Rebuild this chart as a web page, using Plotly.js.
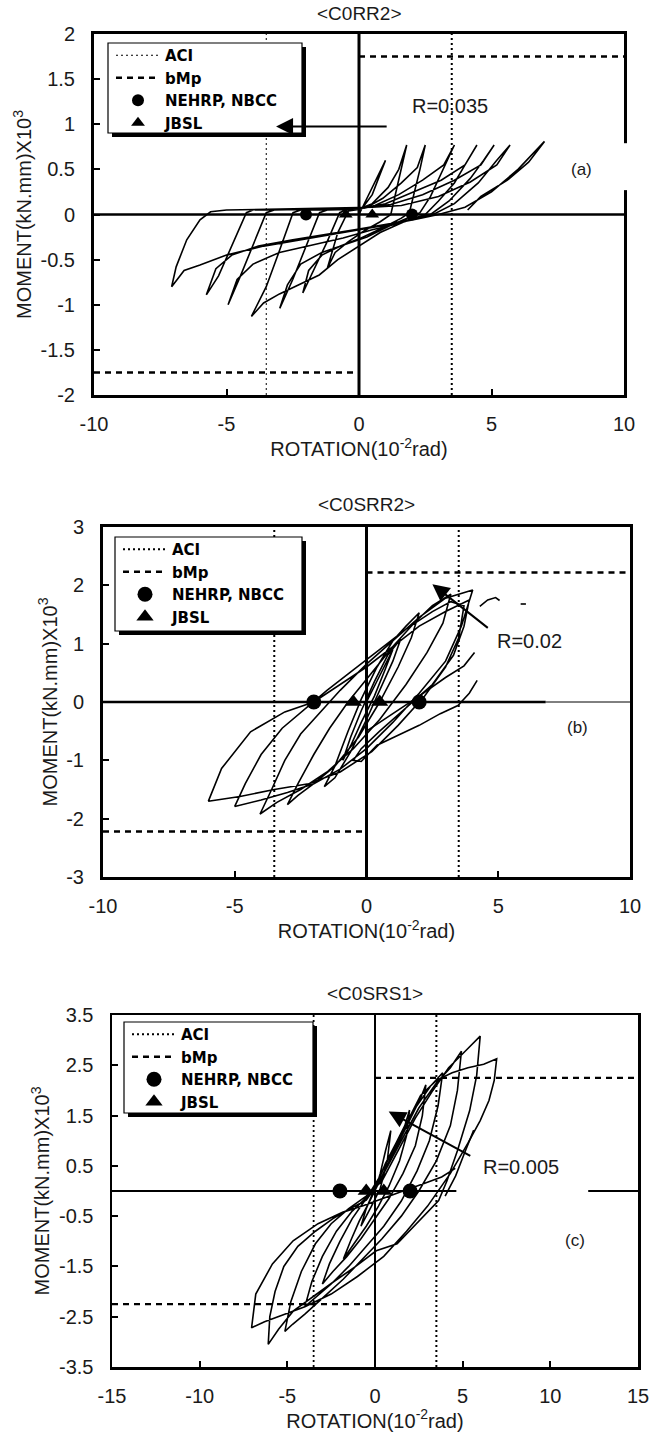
<!DOCTYPE html>
<html>
<head>
<meta charset="utf-8">
<script src="https://cdn.plot.ly/plotly-3.0.1.min.js"></script>
<style>
html,body{margin:0;padding:0;background:#fff;}
#chart{width:655px;height:1437px;}
</style>
</head>
<body>
<div id="chart"></div>
<script>
// ---------------- DATA ----------------
const specimenNames = ['<C0RR2>', '<C0SRR2>', '<C0SRS1>'];
const panelLabels = ['(a)', '(b)', '(c)'];
const driftLabels = ['R=0.035', 'R=0.02', 'R=0.005'];
const legendNames = ['ACI', 'bMp', 'NEHRP, NBCC', 'JBSL'];

const rotationTicksAB = [-10, -5, 0, 5, 10];
const rotationTickTextAB = ['-10', '-5', '0', '5', '10'];
const rotationTicksC = [-15, -10, -5, 0, 5, 10, 15];
const rotationTickTextC = ['-15', '-10', '-5', '0', '5', '10', '15'];
const momentTicksA = [-2, -1.5, -1, -0.5, 0, 0.5, 1, 1.5, 2];
const momentTickTextA = ['-2', '-1.5', '-1', '-0.5', '0', '0.5', '1', '1.5', '2'];
const momentTicksB = [-3, -2, -1, 0, 1, 2, 3];
const momentTickTextB = ['-3', '-2', '-1', '0', '1', '2', '3'];
const momentTicksC = [-3.5, -2.5, -1.5, -0.5, 0.5, 1.5, 2.5, 3.5];
const momentTickTextC = ['-3.5', '-2.5', '-1.5', '-0.5', '0.5', '1.5', '2.5', '3.5'];

const aciRotation = [-3.5, 3.5];
const bMpMoment = [1.75, 2.22, 2.25];
const nehrpRotation = [-2, 2];
const jbslRotation = [-0.5, 0.5];
const codeMoment = [0, 0];

// drift-ratio arrows: [tail, tip] per panel
const driftArrowRotation = [[1.1, -3.13], [4.66, 2.5], [5.52, 0.78]];
const driftArrowMoment = [[0.976, 0.976], [1.25, 2.02], [0.68, 1.58]];

// hysteresis loops: [rotation (10^-2 rad), moment (kN.mm x10^3)], null = pen up
const C0RR2_loop = [
[0,0],[0.3,0.18],[0.7,0.42],[1.0,0.6],
[0.8,0.45],[0.5,0.22],[0.1,0.06],[-0.4,0.04],
[-0.8,-0.2],[-1.2,-0.6],
[-0.9,-0.42],[-0.4,-0.3],[0.2,-0.18],[0.8,-0.08],[1.2,0],
[1.4,0.25],[1.6,0.5],[1.8,0.77],
[1.5,0.5],[1.1,0.3],[0.5,0.12],[0,0.06],[-0.5,0.05],
[-0.73,0.02],[-1.2,-0.3],[-1.7,-0.62],[-2.12,-0.87],
[-1.9,-0.62],[-1.4,-0.45],[-0.7,-0.35],[0,-0.27],[0.8,-0.16],[1.6,-0.04],[1.9,0.02],
[2.1,0.25],[2.3,0.5],[2.5,0.77],
[2.2,0.52],[1.6,0.35],[0.9,0.18],[0.3,0.08],[-0.5,0.06],[-1.2,0.05],
[-1.49,0.02],[-2.0,-0.35],[-2.5,-0.72],[-2.99,-1.04],
[-2.7,-0.78],[-2.2,-0.55],[-1.4,-0.42],[-0.5,-0.33],[0.3,-0.25],[1.2,-0.12],[2.0,-0.02],[2.3,0.02],
[2.7,0.2],[3.1,0.45],[3.6,0.77],
[3.2,0.55],[2.4,0.38],[1.5,0.22],[0.6,0.1],[0,0.06],[-1.2,0.05],[-2.2,0.05],
[-2.49,0.02],[-3.0,-0.4],[-3.5,-0.8],[-4.06,-1.13],
[-3.6,-0.98],[-3.0,-0.88],[-2.3,-0.78],[-1.5,-0.67],[-0.8,-0.5],[0,-0.35],[0.8,-0.2],[1.7,-0.08],[2.5,0],
[3.0,0.15],[3.6,0.35],[4.0,0.55],[4.45,0.77],
[4.0,0.55],[3.1,0.38],[2.0,0.24],[1.0,0.12],[0.2,0.07],[-1.0,0.06],[-2.5,0.05],[-3.2,0.05],
[-3.5,0.02],[-4.0,-0.35],[-4.5,-0.7],[-4.94,-1.0],
[-4.6,-0.72],[-4.0,-0.55],[-3.0,-0.42],[-1.8,-0.34],[-0.6,-0.26],[0.5,-0.17],[1.5,-0.1],[2.4,-0.02],[2.7,0.0],
[3.4,0.15],[4.2,0.4],[4.7,0.6],[5.1,0.77],
[4.6,0.55],[3.6,0.38],[2.4,0.22],[1.2,0.11],[0,0.07],[-1.5,0.06],[-3.0,0.05],[-4.0,0.05],
[-4.25,0.02],[-4.8,-0.35],[-5.3,-0.68],[-5.76,-0.89],
[-5.4,-0.6],[-4.8,-0.45],[-3.8,-0.35],[-2.5,-0.28],[-1.2,-0.22],[0,-0.16],[1.2,-0.1],[2.3,-0.03],[2.8,0.0],
[3.6,0.12],[4.5,0.35],[5.2,0.6],[5.7,0.77],
[5.2,0.55],[4.2,0.36],[3.0,0.2],[1.6,0.1],[0.5,0.08],[-1.5,0.07],[-3.5,0.06],[-5.0,0.05],[-5.6,0.03],
[-6.0,-0.06],[-6.5,-0.28],[-6.9,-0.58],[-7.07,-0.8],
[-6.6,-0.62],[-6.0,-0.56],[-5.0,-0.45],[-3.6,-0.35],[-2.0,-0.27],[-0.5,-0.2],[1.0,-0.12],[2.2,-0.05],[3.0,0.0],
[4.0,0.08],[5.0,0.25],[6.0,0.5],[7.0,0.81],
[6.4,0.58],[5.6,0.38],[4.6,0.2],[4.1,0.05]
];

const C0SRR2_loop = [
[0,0],[0.4,0.35],[0.8,0.72],[1.0,0.9],[0.7,0.55],[0.3,0.1],[-0.2,-0.35],[-0.6,-0.75],[-0.9,-1.0],
[-0.6,-0.6],[-0.2,-0.15],[0.3,0.35],[0.8,0.8],[1.3,1.08],[1.0,0.7],[0.5,0.2],[0,-0.3],[-0.6,-0.85],[-1.2,-1.3],[-1.6,-1.45],
[-1.2,-1.1],[-0.7,-0.5],[-0.2,0.05],[0.4,0.6],[1.0,1.05],[1.5,1.3],[2.0,1.53],[1.7,1.1],[1.2,0.6],[0.5,0.0],[-0.3,-0.6],[-1.2,-1.1],[-2.0,-1.4],[-2.6,-1.6],[-3.0,-1.76],
[-2.6,-1.4],[-2.0,-0.9],[-1.4,-0.45],[-0.7,0.0],[0.2,0.5],[1.0,0.95],[1.8,1.35],[2.5,1.65],[3.2,1.85],[2.9,1.35],[2.3,0.85],[1.5,0.3],[0.5,-0.3],[-0.5,-0.8],[-1.5,-1.2],[-2.5,-1.5],[-3.4,-1.72],[-4.04,-1.92],
[-3.6,-1.5],[-3.1,-1.0],[-2.5,-0.55],[-1.8,-0.2],[-1.0,0.2],[0,0.65],[1.0,1.05],[2.0,1.45],[3.0,1.78],[4.03,1.92],[3.6,1.3],[3.0,0.7],[2.0,0.15],[1.0,-0.35],[0,-0.8],[-1.0,-1.15],[-2.0,-1.4],[-3.0,-1.55],[-4.0,-1.68],[-5.0,-1.79],
[-4.6,-1.4],[-4.0,-0.9],[-3.2,-0.45],[-2.4,-0.15],[-1.5,0.2],[-0.5,0.55],[0.5,0.9],[1.5,1.25],[2.5,1.55],[3.2,1.72],[3.7,1.65],[3.5,1.1],[3.0,0.6],[2.2,0.1],[1.2,-0.4],[0.2,-0.85],[-1.0,-1.2],[-2.2,-1.4],[-3.5,-1.5],[-4.8,-1.62],[-6.0,-1.7],
[-5.5,-1.14],[-4.4,-0.51],[-3.1,-0.17],[-2.0,0.0],[-1.0,0.3],[0,0.6],[1.0,0.95],[2.0,1.3],[3.0,1.55],[3.9,1.75],[3.7,1.3],[3.3,0.8],[2.5,0.3],[1.5,-0.1],[0.5,-0.5],[-0.2,-0.8],[-0.5,-1.0],
[-0.2,-1.02],[0.4,-0.74],[1.2,-0.57],[2.0,-0.4],[2.8,-0.2],[3.47,-0.06],[3.9,0.15],[4.2,0.37],
null,
[0.0,-0.5],[1.0,-0.2],[2.0,0.1],[3.0,0.42],[3.7,0.62],[4.1,0.85],
null,
[4.3,1.64],[4.6,1.75],[4.9,1.79],[5.05,1.74],
null,
[5.85,1.68],[6.05,1.68]
];

const C0SRS1_loop = [
[0,0],[0.3,0.35],[0.6,0.8],[0.9,1.2],[0.7,0.6],[0.3,0.05],[-0.2,-0.3],[-0.8,-0.7],
[-0.5,-0.35],[0,0.05],[0.6,0.55],[1.2,0.95],[1.7,1.3],[1.97,1.61],
[1.8,1.1],[1.4,0.6],[0.8,0.1],[0.2,-0.3],[-0.5,-0.7],[-1.2,-1.05],[-1.8,-1.35],
[-1.4,-1.0],[-0.9,-0.6],[-0.3,-0.2],[0.4,0.3],[1.2,0.85],[2.0,1.45],[2.6,1.85],[2.9,2.11],
[2.7,1.5],[2.3,0.9],[1.6,0.35],[0.8,-0.15],[0,-0.55],[-0.8,-0.95],[-1.6,-1.3],[-2.4,-1.6],[-3.0,-1.85],
[-2.6,-1.45],[-2.0,-1.0],[-1.3,-0.55],[-0.5,-0.15],[0.3,0.3],[1.2,0.95],[2.2,1.6],[3.2,2.1],[3.86,2.35],
[3.6,1.7],[3.1,1.0],[2.4,0.4],[1.5,-0.2],[0.5,-0.7],[-0.5,-1.1],[-1.5,-1.5],[-2.5,-1.85],[-3.3,-2.1],[-4.0,-2.3],
[-3.6,-1.8],[-3.0,-1.3],[-2.2,-0.8],[-1.3,-0.4],[-0.4,-0.1],[0.5,0.35],[1.5,1.0],[2.5,1.65],[3.5,2.15],[4.3,2.45],[4.93,2.78],
[4.7,2.0],[4.3,1.3],[3.5,0.6],[2.5,0.0],[1.5,-0.5],[0.4,-0.95],[-0.7,-1.35],[-1.8,-1.75],[-2.9,-2.1],[-4.0,-2.45],[-4.7,-2.65],[-5.14,-2.79],
[-4.8,-2.2],[-4.2,-1.6],[-3.4,-1.05],[-2.5,-0.65],[-1.5,-0.35],[-0.5,-0.1],[0.4,0.2],[1.3,0.8],[2.3,1.45],[3.3,2.0],[4.2,2.45],[5.2,2.8],[6.0,3.08],
[5.8,2.3],[5.4,1.6],[4.7,0.8],[4.1,0.2],[3.63,-0.19],[2.5,-0.6],[1.26,-1.05],[0.07,-1.19],[-1.1,-1.5],[-2.3,-1.79],[-3.5,-2.1],[-4.67,-2.39],[-5.5,-2.75],[-6.09,-3.05],
[-6.0,-2.5],[-5.7,-2.0],[-5.2,-1.5],[-4.4,-1.1],[-3.4,-0.8],[-2.4,-0.55],[-1.4,-0.35],[-0.5,-0.18],[0.3,0.2],[1.0,0.75],[1.8,1.35],[2.6,1.9],[3.5,2.2],[4.4,2.35],[5.3,2.45],[6.2,2.52],[6.94,2.63],
[6.8,2.2],[6.5,1.8],[6.0,1.4],[5.3,0.95],[4.3,0.35],[3.0,-0.3],[1.8,-0.8],[0.5,-1.3],[-1.0,-1.7],[-2.5,-2.05],[-4.0,-2.3],[-5.5,-2.5],[-6.3,-2.6],[-7.04,-2.72],
[-6.8,-2.05],[-5.85,-1.45],[-4.67,-0.99],[-3.25,-0.65],[-1.82,-0.42],[-0.64,-0.29],[0.4,-0.15],[1.6,0.0],[2.8,0.15],[3.8,0.28],[4.58,0.45],
null,
[4.0,-0.1],[4.6,0.3],[5.1,0.75],[5.63,1.21]
];

// ---------------- LAYOUT HELPERS ----------------
const W = 655, H = 1437;
const fx = p => p / W;
const fy = p => 1 - p / H;
const FONT = 'Liberation Sans, Arial, sans-serif';
const LEGFONT = 'DejaVu Sans, Liberation Sans, Arial, sans-serif';
const TXT = '#1a1a1a';

const panels = [
  {loop: C0RR2_loop, xr: [-10, 10], yr: [-2, 2], xt: rotationTicksAB, xtt: rotationTickTextAB, yt: momentTicksA, ytt: momentTickTextA,
   frame: {l: 94, r: 624, t: 34, b: 395}, box: {l: 108, r: 302, t: 43, b: 133}, titleY: 14,
   aciW: [1, 2], frameW: 3, zeroW: [3, 2.5], mk: 12,
   rLab: {x: 3.45, y: 1.2}, pLab: {x: 8.4, y: 0.5}},
  {loop: C0SRR2_loop, xr: [-10, 10], yr: [-3, 3], xt: rotationTicksAB, xtt: rotationTickTextAB, yt: momentTicksB, ytt: momentTickTextB,
   frame: {l: 103, r: 630, t: 527, b: 877}, box: {l: 115, r: 302, t: 537, b: 631}, titleY: 505,
   aciW: [2, 2], frameW: 3, zeroW: [3, 2.5], mk: 15,
   rLab: {x: 6.2, y: 1.05}, pLab: {x: 8.0, y: -0.43}},
  {loop: C0SRS1_loop, xr: [-15, 15], yr: [-3.5, 3.5], xt: rotationTicksC, xtt: rotationTickTextC, yt: momentTicksC, ytt: momentTickTextC,
   frame: {l: 112, r: 638, t: 1015, b: 1367}, box: {l: 124, r: 313, t: 1022, b: 1113}, titleY: 993,
   aciW: [1.8, 2], frameW: 2.5, zeroW: [2, 2], mk: 15,
   rLab: {x: 8.3, y: 0.48}, pLab: {x: 11.4, y: -0.99}}
];

const esc = s => s.replace(/</g, '&lt;').replace(/>/g, '&gt;');

const traces = [];
const layout = {
  width: W, height: H,
  margin: {l: 0, r: 0, t: 0, b: 0},
  paper_bgcolor: '#fff', plot_bgcolor: '#fff',
  font: {family: FONT, color: '#000'},
  showlegend: true,
  annotations: [], shapes: []
};

panels.forEach((p, i) => {
  const n = i === 0 ? '' : String(i + 1);
  const xa = 'x' + n, ya = 'y' + n;
  const lg = 'legend' + n;
  const f = p.frame, b = p.box;

  layout['xaxis' + n] = {
    domain: [fx(f.l), fx(f.r)], range: p.xr, anchor: ya,
    tickmode: 'array', tickvals: p.xt, ticktext: p.xtt,
    ticks: 'inside', ticklen: 6, tickwidth: 2, tickcolor: '#000',
    showline: true, linewidth: p.frameW, linecolor: '#000', mirror: true,
    showgrid: false, zeroline: false, fixedrange: true,
    tickfont: {family: FONT, size: 20, color: TXT}, ticklabelstandoff: 9,
    title: {text: 'ROTATION(10<sup>-2</sup>rad)', font: {family: FONT, size: 20, color: TXT}, standoff: 4}
  };
  layout['yaxis' + n] = {
    domain: [fy(f.b), fy(f.t)], range: p.yr, anchor: xa,
    tickmode: 'array', tickvals: p.yt, ticktext: p.ytt,
    ticks: 'inside', ticklen: 6, tickwidth: 2, tickcolor: '#000',
    showline: true, linewidth: p.frameW, linecolor: '#000', mirror: true,
    showgrid: false, zeroline: false, fixedrange: true,
    tickfont: {family: FONT, size: 20, color: TXT}, ticklabelstandoff: 12,
    title: {text: 'MOMENT(kN.mm)X10<sup>3</sup>', font: {family: FONT, size: 20, color: TXT}, standoff: 4}
  };
  layout[lg] = {
    x: fx(b.l + 3), y: fy(b.t - 4), xanchor: 'left', yanchor: 'top',
    bgcolor: 'rgba(0,0,0,0)', borderwidth: 0, tracegroupgap: 0, itemwidth: 44,
    font: {family: LEGFONT, size: 15, color: '#000', weight: 'bold'}
  };

  // hysteresis loop
  traces.push({
    type: 'scatter', mode: 'lines', xaxis: xa, yaxis: ya, showlegend: false, hoverinfo: 'skip',
    x: p.loop.map(d => d ? d[0] : null), y: p.loop.map(d => d ? d[1] : null),
    connectgaps: false, line: {color: '#000', width: 1.6}
  });
  // ACI limits
  traces.push({
    type: 'scatter', mode: 'lines', xaxis: xa, yaxis: ya, legend: lg, name: legendNames[0], hoverinfo: 'skip',
    x: [aciRotation[0], aciRotation[0]], y: p.yr,
    line: {color: '#000', width: p.aciW[0], dash: '2px,3px'}
  });
  traces.push({
    type: 'scatter', mode: 'lines', xaxis: xa, yaxis: ya, legend: lg, showlegend: false, hoverinfo: 'skip',
    x: [aciRotation[1], aciRotation[1]], y: p.yr,
    line: {color: '#000', width: p.aciW[1], dash: '2px,3px'}
  });
  // bMp levels
  traces.push({
    type: 'scatter', mode: 'lines', xaxis: xa, yaxis: ya, legend: lg, name: legendNames[1], hoverinfo: 'skip',
    x: [0, p.xr[1], null, p.xr[0], 0], y: [bMpMoment[i], bMpMoment[i], null, -bMpMoment[i], -bMpMoment[i]],
    line: {color: '#000', width: 2.4, dash: '6px,5px'}
  });
  // NEHRP, NBCC
  traces.push({
    type: 'scatter', mode: 'markers', xaxis: xa, yaxis: ya, legend: lg, name: legendNames[2], hoverinfo: 'skip',
    x: nehrpRotation, y: codeMoment, marker: {symbol: 'circle', size: p.mk, color: '#000'}
  });
  // JBSL
  traces.push({
    type: 'scatter', mode: 'markers', xaxis: xa, yaxis: ya, legend: lg, name: legendNames[3], hoverinfo: 'skip',
    x: jbslRotation, y: codeMoment, marker: {symbol: 'triangle-up', size: p.mk, color: '#000'}
  });

  // zero lines
  if (i === 2) {
    layout.shapes.push({type: 'line', xref: xa, yref: ya, x0: p.xr[0], x1: 4.64, y0: 0, y1: 0, line: {color: '#000', width: p.zeroW[1]}, layer: 'below'});
    layout.shapes.push({type: 'line', xref: xa, yref: ya, x0: 12.16, x1: p.xr[1], y0: 0, y1: 0, line: {color: '#000', width: p.zeroW[1]}, layer: 'below'});
  } else if (i === 1) {
    layout.shapes.push({type: 'line', xref: xa, yref: ya, x0: p.xr[0], x1: 6.8, y0: 0, y1: 0, line: {color: '#000', width: p.zeroW[1]}, layer: 'below'});
    layout.shapes.push({type: 'line', xref: xa, yref: ya, x0: 6.8, x1: p.xr[1], y0: 0, y1: 0, line: {color: '#000', width: 1}, layer: 'below'});
  } else {
    layout.shapes.push({type: 'line', xref: xa, yref: ya, x0: p.xr[0], x1: p.xr[1], y0: 0, y1: 0, line: {color: '#000', width: p.zeroW[1]}, layer: 'below'});
  }
  layout.shapes.push({type: 'line', xref: xa, yref: ya, x0: 0, x1: 0, y0: p.yr[0], y1: p.yr[1], line: {color: '#000', width: p.zeroW[0]}, layer: 'below'});

  // legend box with shadow
  layout.shapes.push({type: 'rect', xref: 'paper', yref: 'paper', x0: fx(b.l + 4), x1: fx(b.r + 4), y0: fy(b.b + 4), y1: fy(b.t + 4),
    fillcolor: '#000', line: {width: 0}, layer: 'above'});
  layout.shapes.push({type: 'rect', xref: 'paper', yref: 'paper', x0: fx(b.l), x1: fx(b.r), y0: fy(b.b), y1: fy(b.t),
    fillcolor: '#fff', line: {color: '#000', width: 1.2}, layer: 'above'});

  // specimen title
  layout.annotations.push({xref: 'paper', yref: 'paper', x: fx((f.l + f.r) / 2), y: fy(p.titleY), xanchor: 'center', yanchor: 'middle',
    text: esc(specimenNames[i]), showarrow: false, font: {family: FONT, size: 19, color: TXT}});
  // drift ratio arrow (drawn above the legend box) and its label
  layout.annotations.push({xref: xa, yref: ya, axref: xa, ayref: ya,
    x: driftArrowRotation[i][1], y: driftArrowMoment[i][1], ax: driftArrowRotation[i][0], ay: driftArrowMoment[i][0],
    text: '', showarrow: true, arrowhead: 2, arrowsize: 1.7, arrowwidth: 2, arrowcolor: '#000'});
  layout.annotations.push({xref: xa, yref: ya, x: p.rLab.x, y: p.rLab.y, text: driftLabels[i], showarrow: false,
    font: {family: FONT, size: 20, color: TXT}});
  layout.annotations.push({xref: xa, yref: ya, x: p.pLab.x, y: p.pLab.y, text: panelLabels[i], showarrow: false,
    font: {family: FONT, size: 17, color: TXT}});
});

// gap in the right frame of panel (a)
layout.shapes.push({type: 'rect', xref: 'paper', yref: 'y', x0: fx(618), x1: fx(630), y0: 0.27, y1: 0.79,
  fillcolor: '#fff', line: {width: 0}, layer: 'above'});

Plotly.newPlot('chart', traces, layout, {staticPlot: true, displayModeBar: false});
</script>
</body>
</html>
